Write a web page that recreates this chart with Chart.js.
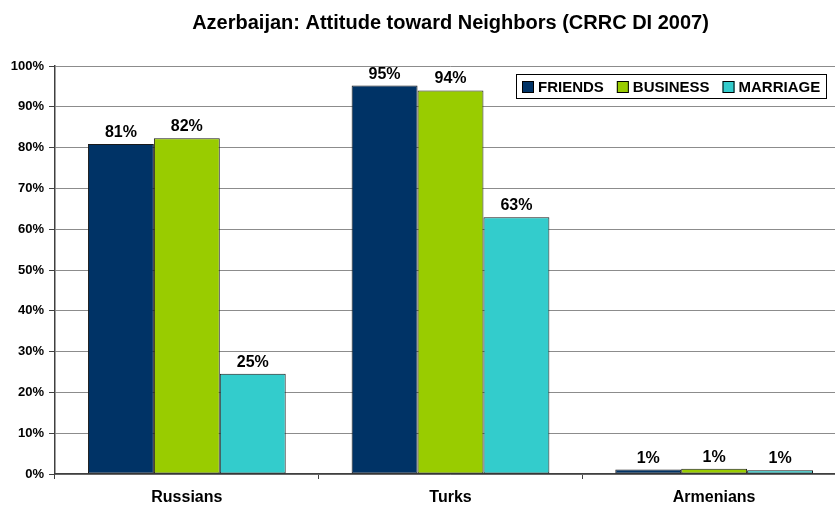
<!DOCTYPE html>
<html>
<head>
<meta charset="utf-8">
<script src="https://cdn.jsdelivr.net/npm/chart.js@4"></script>
<style>
html,body{margin:0;padding:0;background:#fff;overflow:hidden;width:835px;height:507px;}
canvas{display:block;}
</style>
</head>
<body>
<canvas id="c" width="850" height="507"></canvas>
<script>
const categories = ["Russians", "Turks", "Armenians"];
const seriesNames = ["FRIENDS", "BUSINESS", "MARRIAGE"];
const friends = [80.9, 95.2, 1.1];
const business = [82.3, 94.0, 1.3];
const marriage = [24.6, 62.9, 0.9];
const yTicks = [0, 10, 20, 30, 40, 50, 60, 70, 80, 90, 100];
const titleText = "Azerbaijan: Attitude toward Neighbors (CRRC DI 2007)";

const colors = ["#003366", "#99CC00", "#33CCCC"];
const FONT = "'Liberation Sans', Arial, sans-serif";

const valueLabels = {
  id: 'valueLabels',
  afterDatasetsDraw(chart) {
    const ctx = chart.ctx;
    ctx.save();
    ctx.font = "bold 16px " + FONT;
    ctx.fillStyle = "#000";
    ctx.textAlign = "center";
    ctx.textBaseline = "alphabetic";
    chart.data.datasets.forEach((ds, i) => {
      const meta = chart.getDatasetMeta(i);
      meta.data.forEach((el, j) => {
        ctx.fillText(Math.round(ds.data[j]) + "%", el.x, el.y - 7);
      });
    });
    ctx.restore();
  }
};

const boxLegend = {
  id: 'boxLegend',
  afterDraw(chart) {
    const ctx = chart.ctx;
    ctx.save();
    ctx.font = "bold 15px " + FONT;
    const sw = 12, gap = 4, itemGap = 13, padL = 6, padR = 6;
    let total = padL + padR;
    const widths = chart.data.datasets.map(ds => ctx.measureText(ds.label).width);
    widths.forEach((w, i) => { total += sw + gap + w + (i < widths.length - 1 ? itemGap : 0); });
    const right = 826, top = 74, h = 24;
    const left = Math.round(right - total);
    total = right - left;
    ctx.fillStyle = "#fff";
    ctx.fillRect(left, top, total, h);
    ctx.strokeStyle = "#000";
    ctx.lineWidth = 1;
    ctx.strokeRect(left + 0.5, top + 0.5, total, h);
    let x = left + padL;
    const cy = top + h / 2 + 0.5;
    chart.data.datasets.forEach((ds, i) => {
      ctx.fillStyle = ds.backgroundColor;
      ctx.fillRect(x, Math.round(cy - sw / 2), sw, sw);
      ctx.strokeStyle = "#000";
      ctx.strokeRect(x + 0.5, Math.round(cy - sw / 2) + 0.5, sw - 1, sw - 1);
      x += sw + gap;
      ctx.fillStyle = "#000";
      ctx.textBaseline = "middle";
      ctx.textAlign = "left";
      ctx.fillText(ds.label, x, cy + 1);
      x += widths[i] + itemGap;
    });
    ctx.restore();
  }
};

new Chart(document.getElementById('c'), {
  type: 'bar',
  data: {
    labels: categories,
    datasets: [
      { label: seriesNames[0], data: friends, backgroundColor: colors[0] },
      { label: seriesNames[1], data: business, backgroundColor: colors[1] },
      { label: seriesNames[2], data: marriage, backgroundColor: colors[2] }
    ].map(d => Object.assign(d, { borderColor: "#1a1a1a", borderWidth: 1, borderSkipped: false }))
  },
  options: {
    responsive: false,
    animation: false,
    layout: { padding: { left: 0, right: 4, top: 0, bottom: 0 } },
    datasets: { bar: { categoryPercentage: 0.75, barPercentage: 1.0 } },
    plugins: {
      legend: { display: false },
      tooltip: { enabled: false },
      title: {
        display: true,
        text: titleText,
        fullSize: false,
        color: "#000",
        font: { family: FONT, size: 20, weight: 'bold', lineHeight: 1.2 },
        padding: { top: 11, bottom: 31 }
      }
    },
    scales: {
      x: {
        grid: { display: true, drawOnChartArea: false, offset: true, tickLength: 5, tickColor: "#404040" },
        border: { color: "#404040", width: 1.5 },
        ticks: { color: "#000", font: { family: FONT, size: 16, weight: 'bold' }, padding: 9 },
        afterFit(s) { s.height = 33; }
      },
      y: {
        min: 0, max: 100,
        afterBuildTicks(s) { s.ticks = yTicks.map(v => ({ value: v })); },
        grid: { color: "#8c8c8c", lineWidth: 1, tickLength: 6, tickColor: "#404040" },
        border: { color: "#404040", width: 1.5 },
        ticks: { color: "#000", font: { family: FONT, size: 13, weight: 'bold' }, padding: 5,
                 callback: v => v + "%" },
        afterFit(s) { s.width = 55; }
      }
    }
  },
  plugins: [valueLabels, boxLegend]
});
</script>
</body>
</html>
